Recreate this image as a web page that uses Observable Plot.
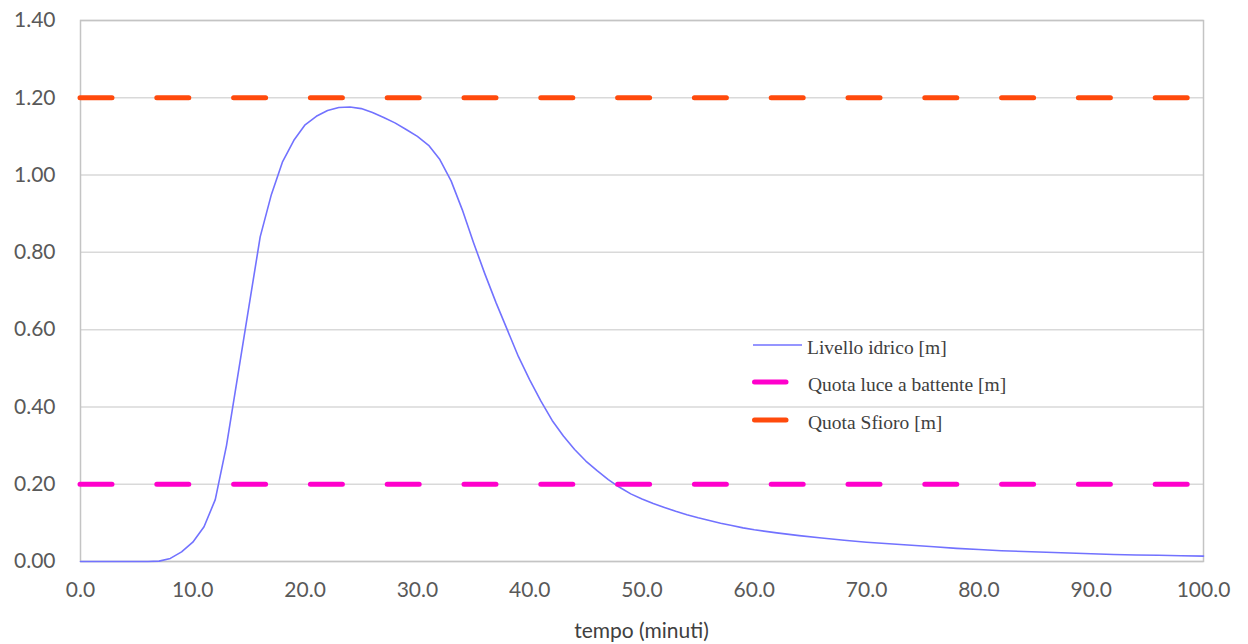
<!DOCTYPE html>
<html>
<head>
<meta charset="utf-8">
<script src="https://cdn.jsdelivr.net/npm/d3@7"></script>
<script src="https://cdn.jsdelivr.net/npm/@observablehq/plot@0.6"></script>
<style>
  html, body { margin: 0; padding: 0; background: #fff; }
  #wrap { position: relative; width: 1248px; height: 644px; }
  .leg { position: absolute; font-family: "Liberation Serif", "Times New Roman", serif; font-size: 19.5px; line-height: 22px; color: #404040; white-space: nowrap; }
  .sw { position: absolute; }
  #xtitle { position: absolute; left: 80px; width: 1123px; top: 617px; line-height: 25px; text-align: center; font-family: Lato, "Open Sans", sans-serif; font-size: 21px; color: #404040; }
</style>
</head>
<body>
<div id="wrap"></div>
<script>
// time (minutes)
const tempo = [0, 1, 2, 3, 4, 5, 6, 7, 8, 9, 10, 11, 12, 13, 14, 15, 16, 17, 18, 19, 20,
  21, 22, 23, 24, 25, 26, 27, 28, 29, 30, 31, 32, 33, 34, 35, 36, 37, 38, 39, 40,
  41, 42, 43, 44, 45, 46, 47, 48, 49, 50, 51, 52, 53, 54, 55, 56, 57, 58, 59, 60,
  62, 64, 66, 68, 70, 72, 74, 76, 78, 80, 82, 84, 86, 88, 90, 92, 94, 96, 98, 100];
// water level [m]
const livello = [0, 0, 0, 0, 0, 0, 0, 0.001, 0.008, 0.025, 0.05, 0.09, 0.16, 0.30, 0.48, 0.66, 0.84, 0.95, 1.035, 1.09, 1.13,
  1.152, 1.167, 1.175, 1.176, 1.172, 1.162, 1.149, 1.135, 1.118, 1.10, 1.077, 1.04, 0.985, 0.91, 0.825, 0.745, 0.67, 0.60, 0.53, 0.47,
  0.415, 0.365, 0.325, 0.29, 0.26, 0.235, 0.212, 0.192, 0.175, 0.162, 0.15, 0.14, 0.13, 0.121, 0.113, 0.106, 0.099, 0.093, 0.087, 0.082,
  0.074, 0.067, 0.061, 0.055, 0.05, 0.046, 0.042, 0.038, 0.034, 0.031, 0.028, 0.026, 0.024, 0.022, 0.020, 0.018, 0.017, 0.016, 0.015, 0.014];
const quotaBattente = 0.20;
const quotaSfioro = 1.20;
const xTicks = [0, 10, 20, 30, 40, 50, 60, 70, 80, 90, 100];
const yTicks = [0, 0.2, 0.4, 0.6, 0.8, 1.0, 1.2, 1.4];
const seriesNames = ["Livello idrico [m]", "Quota luce a battente [m]", "Quota Sfioro [m]"];
const seriesColors = ["#7272ff", "#ff00cc", "#ff4a0c"];
const xTitle = "tempo (minuti)";

const data = tempo.map((t, i) => ({t, v: livello[i]}));

const chart = Plot.plot({
  width: 1248,
  height: 644,
  marginLeft: 80,
  marginRight: 45,
  marginTop: 20,
  marginBottom: 83,
  style: {fontFamily: "Lato, 'Open Sans', sans-serif", fontSize: "21px", color: "#595959", background: "white"},
  x: {domain: [0, 100], label: null},
  y: {domain: [0, 1.4], label: null},
  marks: [
    Plot.gridY(yTicks, {stroke: "#d9d9d9", strokeOpacity: 1, strokeWidth: 1.5}),
    Plot.frame({stroke: "#c4c4c4", strokeWidth: 1.5}),
    Plot.axisY(yTicks, {tickSize: 0, tickPadding: 25, tickFormat: d => d.toFixed(2), label: null}),
    Plot.axisX(xTicks, {tickSize: 0, tickPadding: 21, tickFormat: d => d.toFixed(1), label: null}),
    Plot.line(data, {x: "t", y: "v", stroke: seriesColors[0], strokeWidth: 1.6}),
    Plot.ruleY([quotaBattente], {stroke: seriesColors[1], strokeWidth: 5, strokeDasharray: "32,44.8", strokeLinecap: "round"}),
    Plot.ruleY([quotaSfioro], {stroke: seriesColors[2], strokeWidth: 5, strokeDasharray: "32,44.8", strokeLinecap: "round"})
  ]
});

const wrap = document.getElementById("wrap");
wrap.appendChild(chart);

// legend (HTML overlay)
const legY = [345, 382, 420];
seriesNames.forEach((name, i) => {
  const sw = document.createElementNS("http://www.w3.org/2000/svg", "svg");
  sw.setAttribute("class", "sw");
  sw.setAttribute("width", 60);
  sw.setAttribute("height", 10);
  sw.style.left = "748px";
  sw.style.top = (legY[i] - 5) + "px";
  const ln = document.createElementNS("http://www.w3.org/2000/svg", "line");
  if (i === 0) {
    ln.setAttribute("x1", 5); ln.setAttribute("x2", 54);
    ln.setAttribute("stroke-width", 1.6);
  } else {
    ln.setAttribute("x1", 6.5); ln.setAttribute("x2", 38);
    ln.setAttribute("stroke-width", 5);
    ln.setAttribute("stroke-linecap", "round");
  }
  ln.setAttribute("y1", 5); ln.setAttribute("y2", 5);
  ln.setAttribute("stroke", seriesColors[i]);
  sw.appendChild(ln);
  wrap.appendChild(sw);
  const t = document.createElement("div");
  t.className = "leg";
  t.textContent = name;
  t.style.left = (i === 0 ? 807 : 808) + "px";
  t.style.top = (legY[i] - 8) + "px";
  wrap.appendChild(t);
});

const xt = document.createElement("div");
xt.id = "xtitle";
xt.textContent = xTitle;
wrap.appendChild(xt);
</script>
</body>
</html>
